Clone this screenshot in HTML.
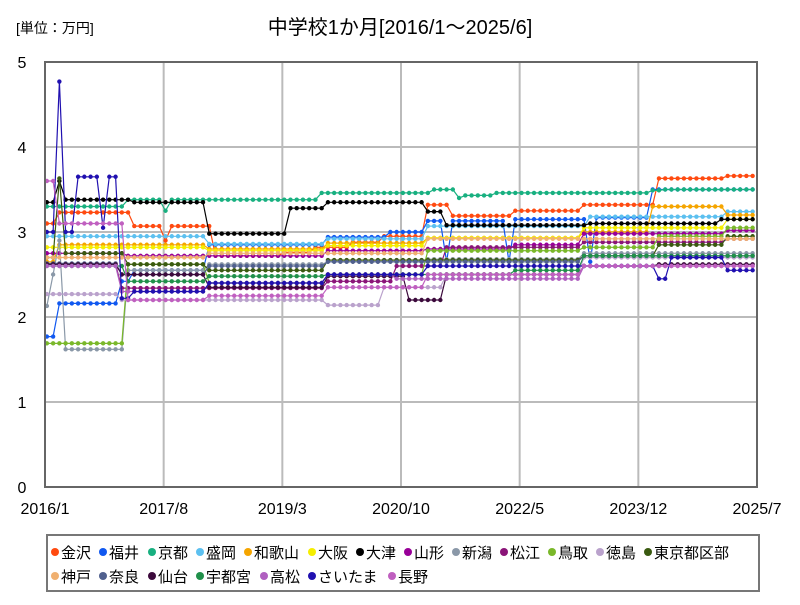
<!DOCTYPE html>
<html><head><meta charset="utf-8"><style>
body{margin:0;background:#fff;font-family:"Liberation Sans","Noto Sans CJK JP",sans-serif}
#wrap{position:relative;width:800px;height:600px}
</style></head><body>
<div id="wrap">
<svg id="svg" width="800" height="600" xmlns="http://www.w3.org/2000/svg">
<text x="16" y="33" font-size="14" font-family="Liberation Sans,Noto Sans CJK JP,sans-serif">[単位：万円]</text>
<text x="400" y="34" font-size="20" text-anchor="middle" font-family="Liberation Sans,Noto Sans CJK JP,sans-serif">中学校1か月[2016/1～2025/6]</text>
<g id="grid"></g>
<g id="series"></g>
<rect x="45" y="62" width="712" height="425" fill="none" stroke="#666" stroke-width="2"/>
<g id="axes"></g>
<rect x="47" y="535" width="712" height="56" fill="#fff" stroke="#777" stroke-width="2"/>
<g id="legend"></g>
</svg>
</div>
<script>
const names=["金沢","福井","京都","盛岡","和歌山","大阪","大津","山形","新潟","松江","鳥取","徳島","東京都区部","神戸","奈良","仙台","宇都宮","高松","さいたま","長野"];
const colors=["#ff4a10","#1058f0","#18b080","#5cc0f0","#f5a500","#f5ee00","#000000","#980098","#8a98a8","#8a1478","#7ab82a","#baa2cc","#3a5a10","#f0b070","#50608e","#3c0a3c","#20904a","#b060c0","#2010b0","#c060c0"];
const xTickLabels=["2016/1","2017/8","2019/3","2020/10","2022/5","2023/12","2025/7"];
const yTickLabels=[0,1,2,3,4,5];
// run-length data: [value, months]
const s_kanazawa=[[3.1,2],[3.23,12],[3.07,5],[2.9,1],[3.07,7],[2.72,11],[2.76,5],[2.82,6],[2.88,5],[2.95,7],[3.32,4],[3.19,10],[3.25,11],[3.32,12],[3.63,11],[3.66,5]];
const s_fukui=[[1.77,2],[2.16,10],[2.42,2],[2.55,12],[2.85,19],[2.94,10],[3.0,6],[3.13,3],[2.65,1],[3.13,9],[2.65,1],[3.15,12],[2.65,1],[3.17,9],[3.5,17]];
const s_kyoto=[[3.3,13],[3.38,6],[3.25,1],[3.38,24],[3.46,18],[3.5,4],[3.4,1],[3.43,5],[3.46,25],[3.49,2],[3.5,15]];
const s_morioka=[[2.95,26],[2.86,19],[2.92,16],[3.07,26],[3.18,22],[3.24,5]];
const s_wakayama=[[2.65,2],[2.85,24],[2.8,19],[2.87,16],[2.93,25],[3.0,11],[3.3,12],[3.2,5]];
const s_osaka=[[2.82,26],[2.78,19],[2.84,16],[2.93,25],[3.05,23],[3.15,5]];
const s_otsu=[[3.35,2],[3.6,1],[3.38,11],[3.35,12],[2.98,13],[3.28,6],[3.35,16],[3.24,3],[3.08,23],[3.1,21],[3.15,6]];
const s_yamagata=[[2.75,13],[2.72,32],[2.78,16],[2.8,14],[2.85,11],[2.98,23],[3.02,5]];
const s_niigata=[[2.13,1],[2.5,1],[2.9,1],[1.62,10],[2.55,13],[2.62,19],[2.65,16],[2.68,25],[2.75,28]];
const s_matsue=[[2.62,12],[2.34,33],[2.42,11],[2.6,8],[2.82,22],[2.88,23],[2.92,5]];
const s_tottori=[[1.69,13],[2.62,13],[2.4,19],[2.5,16],[2.78,25],[2.82,12],[2.95,11],[3.05,5]];
const s_tokushima=[[2.27,12],[2.2,33],[2.14,9],[2.35,10],[2.5,22],[2.7,28]];
const s_tokyo=[[2.7,2],[3.63,1],[2.75,10],[2.62,13],[2.55,19],[2.67,41],[2.72,12],[2.85,11],[2.95,5]];
const s_kobe=[[2.7,26],[2.75,35],[2.92,53]];
const s_nara=[[2.63,12],[2.5,14],[2.6,19],[2.65,41],[2.72,28]];
const s_sendai=[[2.62,12],[2.5,14],[2.35,19],[2.48,13],[2.2,6],[2.5,22],[2.6,12],[2.62,16]];
const s_utsunomiya=[[2.6,13],[2.42,13],[2.48,19],[2.5,30],[2.55,11],[2.72,28]];
const s_takamatsu=[[2.6,12],[2.3,14],[2.4,19],[2.5,11],[2.45,30],[2.6,28]];
const s_saitama=[[3.0,2],[4.77,1],[3.0,2],[3.65,4],[3.05,1],[3.65,2],[2.22,2],[2.3,12],[2.4,19],[2.5,16],[2.6,37],[2.45,2],[2.7,9],[2.55,5]];
const s_nagano=[[3.6,2],[3.1,11],[2.2,13],[2.25,19],[2.35,16],[2.5,25],[2.6,28]];
const seriesData=[s_kanazawa,s_fukui,s_kyoto,s_morioka,s_wakayama,s_osaka,s_otsu,s_yamagata,s_niigata,s_matsue,s_tottori,s_tokushima,s_tokyo,s_kobe,s_nara,s_sendai,s_utsunomiya,s_takamatsu,s_saitama,s_nagano];

const NS="http://www.w3.org/2000/svg";
const X0=45,X1=757,Y0=487,Y1=62,NM=114,YMAX=5;
const xs=i=>X0+i*(X1-X0)/NM;
const ys=v=>Y0-v*(Y0-Y1)/YMAX;
function mk(tag,attrs,parent){const e=document.createElementNS(NS,tag);for(const k in attrs)e.setAttribute(k,attrs[k]);parent.appendChild(e);return e;}
const grid=document.getElementById('grid'),axes=document.getElementById('axes');
yTickLabels.forEach(v=>{
  const l=mk('line',{x1:X0,x2:X1,y1:ys(v),y2:ys(v),stroke:'#bbb','stroke-width':2},grid);
  
  
  const t=mk('text',{x:22,y:ys(v)+6,'font-size':16,'text-anchor':'middle'},axes);
  t.textContent=v;
  
  
});
xTickLabels.forEach((lab,k)=>{
  const x=xs(k*19);
  const l=mk('line',{x1:x,x2:x,y1:Y1,y2:Y0,stroke:'#bbb','stroke-width':2},grid);
  
  
  const t=mk('text',{x:x,y:514,'font-size':16,'text-anchor':'middle'},axes);
  t.textContent=lab;
  
  
});
const sg=document.getElementById('series');
seriesData.forEach((runs,si)=>{
  const vals=[];runs.forEach(([v,n])=>{for(let j=0;j<n;j++)vals.push(v);});
  const g=mk('g',{},sg);
  
  
  const pts=vals.slice(0,NM).map((v,i)=>xs(i+0.3).toFixed(1)+','+ys(v).toFixed(1)).join(' ');
  const pl=mk('polyline',{points:pts,fill:'none',stroke:colors[si],'stroke-width':1.2},g);
  
  
  vals.slice(0,NM).forEach((v,i)=>{
    const c=mk('circle',{cx:xs(i+0.3),cy:ys(v),r:2.2,fill:colors[si]},g);
    
    
  });
});
const lg=document.getElementById('legend');
const row1=[[55,'金沢'],[103,'福井'],[152,'京都'],[200,'盛岡'],[248,'和歌山'],[312,'大阪'],[360,'大津'],[408,'山形'],[456,'新潟'],[504,'松江'],[552,'鳥取'],[600,'徳島'],[648,'東京都区部']];
const row2=[[55,'神戸'],[103,'奈良'],[152,'仙台'],[200,'宇都宮'],[264,'高松'],[312,'さいたま'],[392,'長野']];
names.forEach((n,i)=>{
  const pos=i<13?row1[i]:row2[i-13];
  const y=i<13?552:576;
  const g=mk('g',{},lg);
  
  
  mk('circle',{cx:pos[0],cy:y,r:4,fill:colors[i]},g);
  const t=mk('text',{x:pos[0]+6,y:y+6,'font-size':15},g);
  t.textContent=n;
});
</script>
</body></html>
